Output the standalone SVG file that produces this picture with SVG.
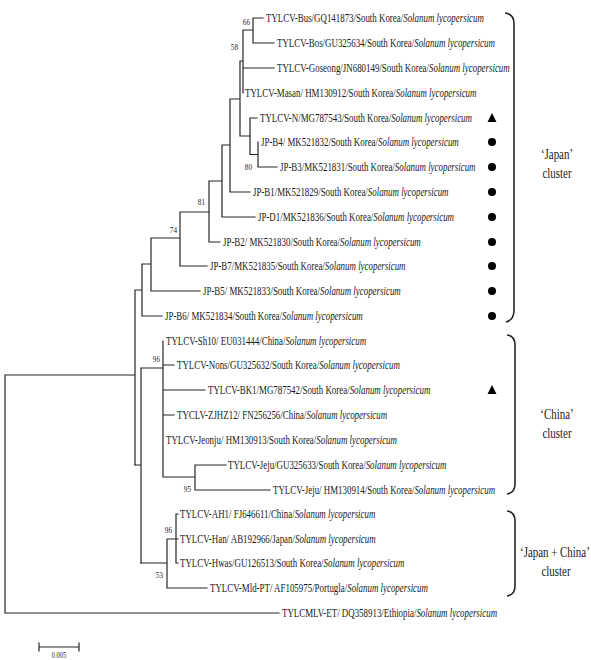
<svg xmlns="http://www.w3.org/2000/svg" width="591" height="660" viewBox="0 0 591 660">
<style>
.bg{fill:#fff}
.tree{fill:none;stroke:#262626;stroke-width:1.2;stroke-linecap:square}
.br{fill:none;stroke:#262626;stroke-width:1.6}
.lbl{font-family:"Liberation Serif","Times New Roman",serif;font-size:12px;fill:#1a1a1a}
.it{font-style:italic}
.bs{font-family:"Liberation Serif","Times New Roman",serif;font-size:9px;fill:#1a1a1a;text-anchor:end}
.cl{font-family:"Liberation Serif","Times New Roman",serif;font-size:14px;fill:#1a1a1a;text-anchor:middle}
.sc{font-family:"Liberation Serif","Times New Roman",serif;font-size:8px;fill:#1a1a1a;text-anchor:middle}
.mk{fill:#000}
</style>
<rect class="bg" x="0" y="0" width="591" height="660"/>
<g id="connectors">
<path class="tree" d="M5,375 V613 M5,375 H135 M5,613 H279
M135,290 V465
M135,290 H142 M142,264 V316 M142,316 H162
M142,264 H151 M151,238 V291 M151,291 H200
M151,238 H180 M180,212 V266 M180,266 H207
M180,212 H209 M209,181 V242 M209,242 H220
M209,181 H222 M222,145 V217 M222,217 H255
M222,145 H230 M230,99 V192 M230,192 H250
M230,99 H240 M240,61 V136
M240,61 H243 M243,30 V93 M243,68 H274
M243,30 H253 M253,18 V43 M253,18 H263 M253,43 H274
M240,136 H250 M250,118 V154.5 M250,118 H257
M250,154.5 H258 M258,142 V167 M258,167 H277"/>
<path class="tree" d="M135,465 H141 M141,368 V563 M141,368 H163 M163,341 V477
M163,365 H174 M163,390 H205 M163,415 H174
M163,477 H195 M195,465 V490 M195,465 H226 M195,490 H270"/>
<path class="tree" d="M141,563 H167 M167,539 V588 M167,588 H207 M167,539 H176 M176,514 V563 M176,514 H178 M176,539 H178 M176,563 H178"/>
</g>
<g id="leaf-bus"><text class="lbl" transform="translate(266,22) scale(0.742,1)">TYLCV-Bus/GQ141873/South Korea/<tspan class="it">Solanum lycopersicum</tspan></text></g>
<g id="leaf-bos"><text class="lbl" transform="translate(277,47) scale(0.742,1)">TYLCV-Bos/GU325634/South Korea/<tspan class="it">Solanum lycopersicum</tspan></text></g>
<g id="leaf-goseong"><text class="lbl" transform="translate(277,72) scale(0.742,1)">TYLCV-Goseong/JN680149/South Korea/<tspan class="it">Solanum lycopersicum</tspan></text></g>
<g id="leaf-masan"><text class="lbl" transform="translate(245,97) scale(0.742,1)">TYLCV-Masan/ HM130912/South Korea/<tspan class="it">Solanum lycopersicum</tspan></text></g>
<g id="leaf-n"><text class="lbl" transform="translate(260,122) scale(0.742,1)">TYLCV-N/MG787543/South Korea/<tspan class="it">Solanum lycopersicum</tspan></text><path class="mk" d="M492,113 L496.5,122 L487.5,122 Z"/></g>
<g id="leaf-b4"><text class="lbl" transform="translate(261,146) scale(0.742,1)">JP-B4/ MK521832/South Korea/<tspan class="it">Solanum lycopersicum</tspan></text><circle class="mk" cx="492" cy="142" r="4"/></g>
<g id="leaf-b3"><text class="lbl" transform="translate(280,171) scale(0.742,1)">JP-B3/MK521831/South Korea/<tspan class="it">Solanum lycopersicum</tspan></text><circle class="mk" cx="492" cy="167" r="4"/></g>
<g id="leaf-b1"><text class="lbl" transform="translate(253,196) scale(0.742,1)">JP-B1/MK521829/South Korea/<tspan class="it">Solanum lycopersicum</tspan></text><circle class="mk" cx="492" cy="192" r="4"/></g>
<g id="leaf-d1"><text class="lbl" transform="translate(258,221) scale(0.742,1)">JP-D1/MK521836/South Korea/<tspan class="it">Solanum lycopersicum</tspan></text><circle class="mk" cx="492" cy="217" r="4"/></g>
<g id="leaf-b2"><text class="lbl" transform="translate(223,246) scale(0.742,1)">JP-B2/ MK521830/South Korea/<tspan class="it">Solanum lycopersicum</tspan></text><circle class="mk" cx="492" cy="242" r="4"/></g>
<g id="leaf-b7"><text class="lbl" transform="translate(210,270) scale(0.742,1)">JP-B7/MK521835/South Korea/<tspan class="it">Solanum lycopersicum</tspan></text><circle class="mk" cx="492" cy="266" r="4"/></g>
<g id="leaf-b5"><text class="lbl" transform="translate(203,295) scale(0.742,1)">JP-B5/ MK521833/South Korea/<tspan class="it">Solanum lycopersicum</tspan></text><circle class="mk" cx="492" cy="291" r="4"/></g>
<g id="leaf-b6"><text class="lbl" transform="translate(165,320) scale(0.742,1)">JP-B6/ MK521834/South Korea/<tspan class="it">Solanum lycopersicum</tspan></text><circle class="mk" cx="492" cy="316" r="4"/></g>
<g id="leaf-sh10"><text class="lbl" transform="translate(166,345) scale(0.742,1)">TYLCV-Sh10/ EU031444/China/<tspan class="it">Solanum lycopersicum</tspan></text></g>
<g id="leaf-nons"><text class="lbl" transform="translate(177,369) scale(0.742,1)">TYLCV-Nons/GU325632/South Korea/<tspan class="it">Solanum lycopersicum</tspan></text></g>
<g id="leaf-bk1"><text class="lbl" transform="translate(208,394) scale(0.742,1)">TYLCV-BK1/MG787542/South Korea/<tspan class="it">Solanum lycopersicum</tspan></text><path class="mk" d="M492,385 L496.5,394 L487.5,394 Z"/></g>
<g id="leaf-zjhz12"><text class="lbl" transform="translate(177,419) scale(0.742,1)">TYCLV-ZJHZ12/ FN256256/China/<tspan class="it">Solanum lycopersicum</tspan></text></g>
<g id="leaf-jeonju"><text class="lbl" transform="translate(166,444) scale(0.742,1)">TYLCV-Jeonju/ HM130913/South Korea/<tspan class="it">Solanum lycopersicum</tspan></text></g>
<g id="leaf-jeju1"><text class="lbl" transform="translate(228,469) scale(0.742,1)">TYLCV-Jeju/GU325633/South Korea/<tspan class="it">Solanum lycopersicum</tspan></text></g>
<g id="leaf-jeju2"><text class="lbl" transform="translate(273,494) scale(0.742,1)">TYLCV-Jeju/ HM130914/South Korea/<tspan class="it">Solanum lycopersicum</tspan></text></g>
<g id="leaf-ah1"><text class="lbl" transform="translate(180,518) scale(0.742,1)">TYLCV-AH1/ FJ646611/China/<tspan class="it">Solanum lycopersicum</tspan></text></g>
<g id="leaf-han"><text class="lbl" transform="translate(180,543) scale(0.742,1)">TYLCV-Han/ AB192966/Japan/<tspan class="it">Solanum lycopersicum</tspan></text></g>
<g id="leaf-hwas"><text class="lbl" transform="translate(180,567) scale(0.742,1)">TYLCV-Hwas/GU126513/South Korea/<tspan class="it">Solanum lycopersicum</tspan></text></g>
<g id="leaf-mld"><text class="lbl" transform="translate(210,592) scale(0.742,1)">TYLCV-Mld-PT/ AF105975/Portugla/<tspan class="it">Solanum lycopersicum</tspan></text></g>
<g id="leaf-outgroup"><text class="lbl" transform="translate(282,617) scale(0.742,1)">TYLCMLV-ET/ DQ358913/Ethiopia/<tspan class="it">Solanum lycopersicum</tspan></text></g>
<g id="node-66"><text class="bs" transform="translate(250,25) scale(0.8,1)">66</text></g>
<g id="node-58"><text class="bs" transform="translate(238,50) scale(0.8,1)">58</text></g>
<g id="node-80"><text class="bs" transform="translate(252,170) scale(0.8,1)">80</text></g>
<g id="node-81"><text class="bs" transform="translate(205,205) scale(0.8,1)">81</text></g>
<g id="node-74"><text class="bs" transform="translate(177,233) scale(0.8,1)">74</text></g>
<g id="node-96a"><text class="bs" transform="translate(160,362) scale(0.8,1)">96</text></g>
<g id="node-95"><text class="bs" transform="translate(191,492) scale(0.8,1)">95</text></g>
<g id="node-96b"><text class="bs" transform="translate(172,533) scale(0.8,1)">96</text></g>
<g id="node-53"><text class="bs" transform="translate(163,578) scale(0.8,1)">53</text></g>
<g id="cluster-japan">
<path class="br" d="M505,13 Q514,14 514,24 L514,310 Q514,320 506,322"/>
<text class="cl" transform="translate(557,159) scale(0.78,1)">‘Japan’</text>
<text class="cl" transform="translate(557,178) scale(0.78,1)">cluster</text>
</g>
<g id="cluster-china">
<path class="br" d="M507,335 Q515,336 515,345 L515,484 Q515,493 507,494"/>
<text class="cl" transform="translate(557,419) scale(0.78,1)">‘China’</text>
<text class="cl" transform="translate(557,438) scale(0.78,1)">cluster</text>
</g>
<g id="cluster-japan-china">
<path class="br" d="M507,511 Q515,512 515,521 L515,586 Q515,595 507,596"/>
<text class="cl" style="text-anchor:start" transform="translate(520,557) scale(0.78,1)">‘Japan + China’</text>
<text class="cl" transform="translate(556,576) scale(0.78,1)">cluster</text>
</g>
<g id="scale-bar">
<path class="tree" d="M39,647 H79 M39,643 V651 M79,643 V651"/>
<text class="sc" transform="translate(59,658) scale(0.8,1)">0.005</text>
</g>
</svg>
